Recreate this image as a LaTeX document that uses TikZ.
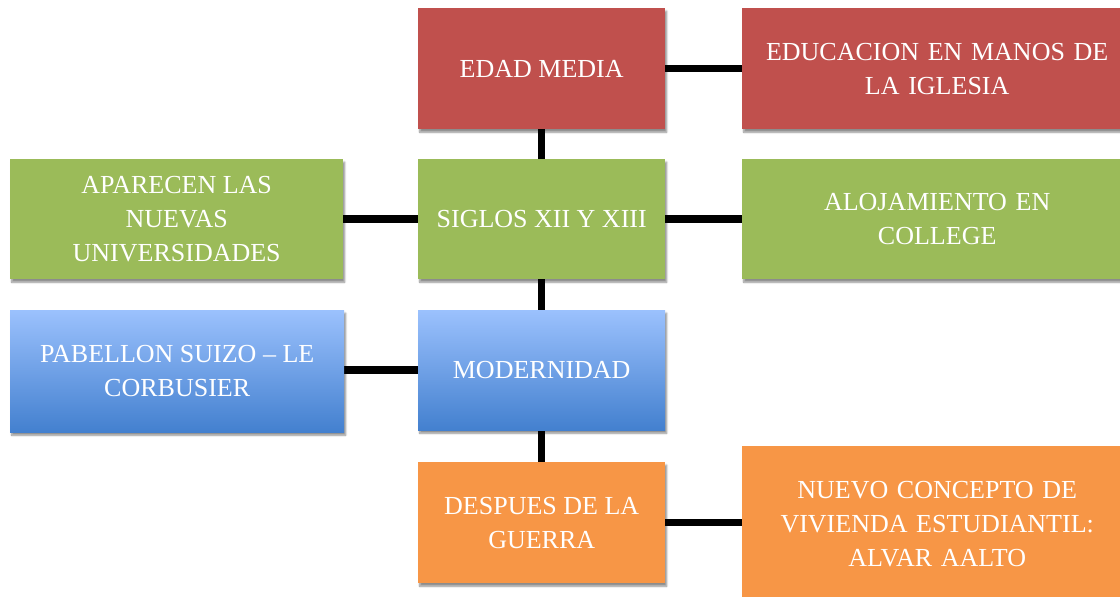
\documentclass[tikz,border=0pt]{standalone}
\usepackage{fontspec}
\setmainfont{Liberation Serif}
\usetikzlibrary{shadows.blur,backgrounds}
\definecolor{cred}{HTML}{C0504D}
\definecolor{cgreen}{HTML}{9BBB59}
\definecolor{corange}{HTML}{F79646}
\definecolor{cbluetop}{HTML}{9BC1FD}
\definecolor{cbluebot}{HTML}{4380CF}
\tikzset{
  box/.style={rectangle, anchor=north west, inner sep=4pt, align=center,
    text=white, font=\fontsize{26}{34}\selectfont,
    blur shadow={shadow xshift=1.5pt, shadow yshift=-3pt, shadow blur steps=6, shadow opacity=45}},
  redbox/.style={box, fill=cred},
  greenbox/.style={box, fill=cgreen},
  orangebox/.style={box, fill=corange},
  bluebox/.style={box, top color=cbluetop, bottom color=cbluebot},
  link/.style={draw=black, line width=7.5pt}
}
\begin{document}
\begin{tikzpicture}[x=1pt,y=-1pt]
\useasboundingbox (0,0) rectangle (1120,597);
\node[redbox, minimum width=247pt, minimum height=121pt] (edad) at (418,8) {EDAD MEDIA};
\node[redbox, minimum width=390pt, minimum height=121pt, text width=370pt] (edu) at (742,8) {EDUCACION EN MANOS DE\\LA IGLESIA};
\node[greenbox, minimum width=247pt, minimum height=120pt] (siglos) at (418,159) {SIGLOS XII Y XIII};
\node[greenbox, minimum width=333pt, minimum height=120pt] (aparecen) at (10,159) {APARECEN LAS\\NUEVAS\\UNIVERSIDADES};
\node[greenbox, minimum width=390pt, minimum height=120pt, text width=370pt] (aloj) at (742,159) {ALOJAMIENTO EN\\COLLEGE};
\node[bluebox, minimum width=247pt, minimum height=120pt] (mod) at (418,310) {MODERNIDAD};
\node[bluebox, minimum width=334pt, minimum height=122pt] (pab) at (10,310) {PABELLON SUIZO -- LE\\CORBUSIER};
\node[orangebox, minimum width=247pt, minimum height=121pt] (despues) at (418,462) {DESPUES DE LA\\GUERRA};
\node[orangebox, minimum width=390pt, minimum height=155pt, text width=370pt] (nuevo) at (742,446) {NUEVO CONCEPTO DE\\VIVIENDA ESTUDIANTIL:\\ALVAR AALTO};
\begin{scope}[on background layer]
\draw[link] (edad.south) -- (siglos.north);
\draw[link] (siglos.south) -- (mod.north);
\draw[link] (mod.south) -- (despues.north);
\draw[link] (edad.east) -- (edad.east -| edu.west);
\draw[link] (siglos.west) -- (siglos.west -| aparecen.east);
\draw[link] (siglos.east) -- (siglos.east -| aloj.west);
\draw[link] (mod.west) -- (mod.west -| pab.east);
\draw[link] (despues.east) -- (despues.east -| nuevo.west);
\end{scope}
\end{tikzpicture}
\end{document}
